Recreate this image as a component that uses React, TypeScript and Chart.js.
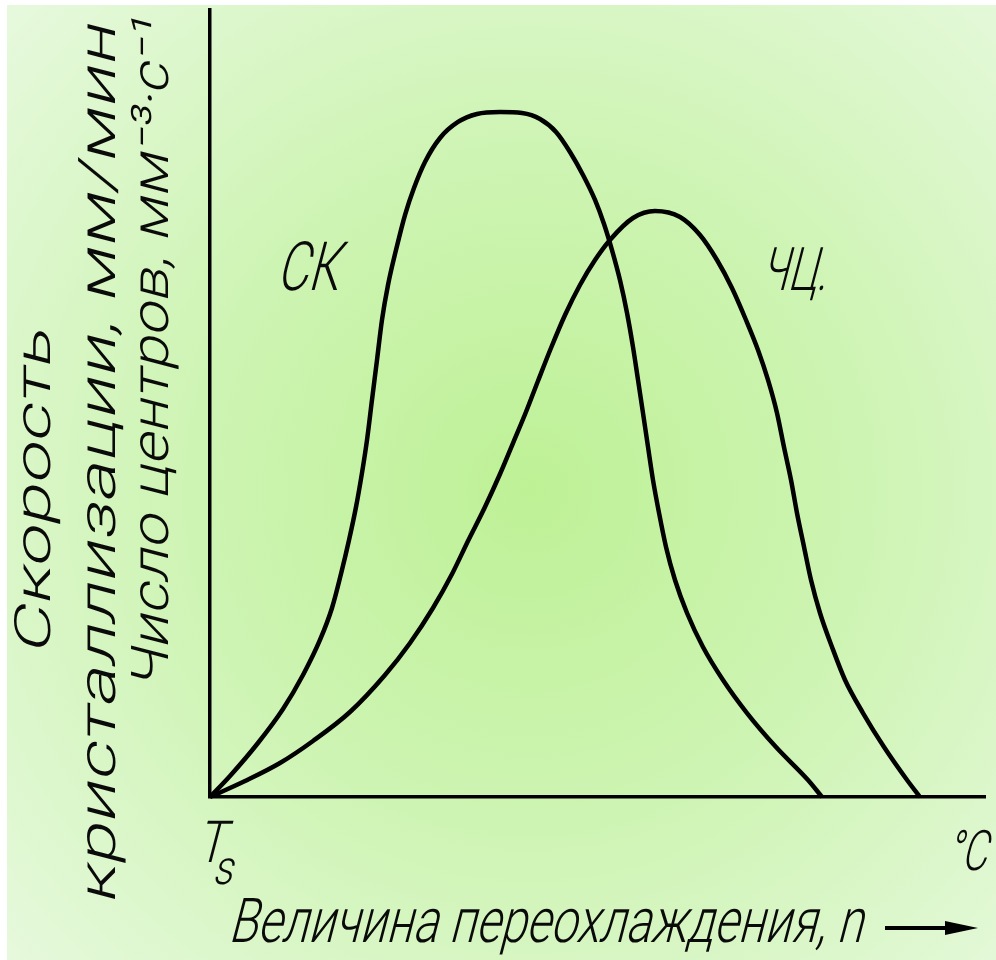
import { useEffect, useRef } from "react";
import { Chart, registerables } from "chart.js";

Chart.register(...registerables);

// Скорость кристаллизации (СК)
const ckX = [0, 2.58, 6.19, 9.42, 12.0, 14.19, 15.74, 16.9, 17.94, 18.84, 19.61, 20.26, 20.9, 21.55, 22.19, 22.97, 24.0, 25.16, 26.32, 27.74, 29.68, 32.0, 34.45, 37.42, 40.26, 42.58, 44.65, 46.45, 48.13, 49.68, 50.84, 51.87, 52.9, 53.81, 54.58, 55.23, 55.87, 56.52, 57.16, 57.94, 58.84, 60.0, 61.55, 63.61, 66.19, 69.29, 73.03, 77.16, 78.97];
const ckY = [0, 2.67, 6.86, 11.18, 15.5, 19.95, 24.02, 28.34, 32.66, 36.85, 41.17, 45.36, 50.44, 55.53, 60.61, 65.06, 69.5, 73.95, 77.38, 80.69, 83.74, 85.77, 86.79, 87.04, 86.91, 86.15, 84.5, 81.96, 79.03, 75.86, 72.81, 69.5, 65.69, 61.5, 57.18, 52.99, 48.79, 44.47, 40.28, 36.09, 31.77, 27.57, 23.38, 19.06, 14.87, 10.67, 6.35, 2.16, 0];

// Число центров (ЧЦ)
const chX = [0, 4.52, 9.03, 13.29, 18.06, 22.58, 25.81, 28.77, 31.23, 33.29, 35.48, 37.42, 39.1, 40.77, 42.32, 44.0, 45.81, 47.74, 49.68, 51.61, 54.58, 57.42, 60.65, 63.23, 65.42, 67.35, 69.16, 70.71, 72.0, 73.16, 74.06, 74.97, 75.74, 76.65, 77.55, 78.71, 80.26, 81.94, 84.26, 86.97, 89.94, 91.61];
const chY = [0, 2.03, 4.32, 7.12, 10.8, 15.5, 19.57, 24.02, 28.34, 32.53, 36.85, 41.04, 44.98, 48.92, 52.86, 57.05, 61.25, 65.06, 68.23, 70.78, 73.57, 74.46, 73.7, 71.41, 68.23, 64.68, 60.61, 56.8, 52.99, 48.79, 44.47, 40.28, 36.09, 31.77, 27.57, 23.38, 19.06, 14.87, 10.67, 6.35, 2.16, 0];

const curveLabels = ["СК", "ЧЦ."];
const yTitleLines = ["Скорость", "кристаллизации, мм/мин", "Число центров, мм⁻³·с⁻¹"];
const xTitle = "Величина переохлаждения, n";
const originLabel = ["T", "s"];
const endLabel = "°C";

const OX = 7;
const OY = 5;
const W = 989;
const H = 955;

function drawFit(
  ctx: CanvasRenderingContext2D,
  text: string,
  x: number,
  y: number,
  width: number,
  size: number,
  rot = 0
) {
  ctx.save();
  ctx.font = `300 ${size}px Roboto`;
  const w = ctx.measureText(text).width;
  ctx.translate(x - OX, y - OY);
  if (rot) ctx.rotate(rot);
  ctx.transform(width / w, 0, -0.26, 1, 0, 0);
  ctx.textBaseline = "alphabetic";
  ctx.textAlign = "left";
  ctx.fillStyle = "#0a0a0a";
  ctx.fillText(text, 0, 0);
  ctx.restore();
}

const bgPlugin = {
  id: "bgGrad",
  beforeDraw(chart: any) {
    const ctx = chart.ctx as CanvasRenderingContext2D;
    const g = ctx.createRadialGradient(530 - OX, 490 - OY, 0, 530 - OX, 490 - OY, 720);
    g.addColorStop(0, "rgb(190,241,150)");
    g.addColorStop(0.45, "rgb(205,244,178)");
    g.addColorStop(1, "rgb(231,249,222)");
    ctx.save();
    ctx.fillStyle = g;
    ctx.fillRect(0, 0, chart.width, chart.height);
    ctx.restore();
  },
};

const textPlugin = {
  id: "texts",
  afterDraw(chart: any) {
    const ctx = chart.ctx as CanvasRenderingContext2D;
    // y-axis titles (rotated)
    drawFit(ctx, yTitleLines[0], 50, 655, 325, 50, -Math.PI / 2);
    drawFit(ctx, yTitleLines[1], 115, 905, 880, 52, -Math.PI / 2);
    drawFit(ctx, yTitleLines[2], 168, 690, 670, 52, -Math.PI / 2);
    // curve labels
    drawFit(ctx, curveLabels[0], 276, 290, 62, 68);
    drawFit(ctx, curveLabels[1], 760, 290, 66, 60);
    // origin / end labels
    drawFit(ctx, originLabel[0], 196, 862, 28, 58);
    drawFit(ctx, originLabel[1], 212, 884, 20, 48);
    drawFit(ctx, endLabel, 946, 870, 40, 56);
    // x title
    drawFit(ctx, xTitle, 228, 942, 634, 62);
    // arrow
    ctx.save();
    ctx.strokeStyle = "#000";
    ctx.fillStyle = "#000";
    ctx.lineWidth = 4;
    ctx.beginPath();
    ctx.moveTo(885 - OX, 928 - OY);
    ctx.lineTo(955 - OX, 928 - OY);
    ctx.stroke();
    ctx.beginPath();
    ctx.moveTo(978 - OX, 928 - OY);
    ctx.lineTo(945 - OX, 921 - OY);
    ctx.lineTo(945 - OX, 935 - OY);
    ctx.closePath();
    ctx.fill();
    ctx.restore();
  },
};

export default function App() {
  const ref = useRef<HTMLCanvasElement | null>(null);

  useEffect(() => {
    if (!ref.current) return;
    const ck = ckX.map((x, i) => ({ x, y: ckY[i] }));
    const ch = chX.map((x, i) => ({ x, y: chY[i] }));
    const chart = new Chart(ref.current, {
      type: "line",
      data: {
        datasets: [
          {
            label: curveLabels[0],
            data: ck,
            borderColor: "#000",
            borderWidth: 4.5,
            pointRadius: 0,
            cubicInterpolationMode: "monotone",
            clip: false,
          } as any,
          {
            label: curveLabels[1],
            data: ch,
            borderColor: "#000",
            borderWidth: 4.5,
            pointRadius: 0,
            cubicInterpolationMode: "monotone",
            clip: false,
          } as any,
        ],
      },
      options: {
        responsive: false,
        animation: false,
        maintainAspectRatio: false,
        layout: { padding: { left: 203, top: 5, right: 11, bottom: 163 } },
        plugins: { legend: { display: false }, tooltip: { enabled: false } },
        scales: {
          x: {
            type: "linear",
            min: 0,
            max: 100,
            grid: { display: false, drawTicks: false },
            ticks: { display: false },
            border: { display: true, color: "#000", width: 3.5 },
          },
          y: {
            type: "linear",
            min: 0,
            max: 100,
            grid: { display: false, drawTicks: false },
            ticks: { display: false },
            border: { display: true, color: "#000", width: 3.5 },
          },
        },
      },
      plugins: [bgPlugin, textPlugin],
    });
    return () => chart.destroy();
  }, []);

  return (
    <div style={{ position: "fixed", left: OX, top: OY, width: W, height: H }}>
      <canvas ref={ref} width={W} height={H} style={{ display: "block", width: W, height: H }} />
    </div>
  );
}
